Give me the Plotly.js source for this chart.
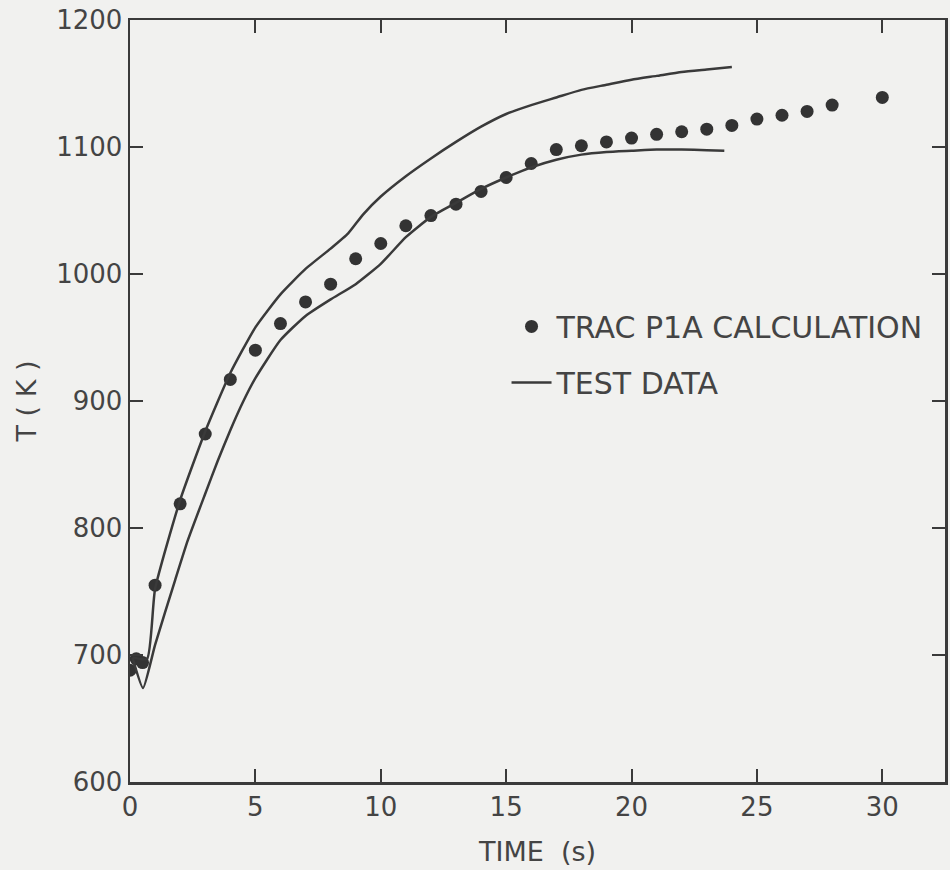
<!DOCTYPE html>
<html>
<head>
<meta charset="utf-8">
<script src="https://cdn.plot.ly/plotly-3.0.1.min.js"></script>
<style>html,body{margin:0;padding:0;background:#f1f1ef;}#chart{width:950px;height:870px;}</style>
</head>
<body>
<div id="chart"></div>
<script>
// TRAC P1A calculation (dots)
const calcTime = [0, 0.25, 0.5, 1, 2, 3, 4, 5, 6, 7, 8, 9, 10, 11, 12, 13, 14, 15, 16, 17, 18, 19, 20, 21, 22, 23, 24, 25, 26, 27, 28, 30];
const calcTemp = [688, 697, 694, 755, 819, 874, 917, 940, 961, 978, 992, 1012, 1024, 1038, 1046, 1055, 1065, 1076, 1087, 1098, 1101, 1104, 1107, 1110, 1112, 1114, 1117, 1122, 1125, 1128, 1133, 1139];

// Test data band: upper curve
const upperTime = [0.1, 0.68, 1, 2, 3, 4, 5, 6, 7, 8, 8.7, 9.3, 10, 11, 12, 13, 14, 15, 16, 17, 18, 19, 20, 21, 22, 23, 24];
const upperTemp = [698, 697, 752, 822, 876, 922, 958, 984, 1004, 1020, 1032, 1047, 1061, 1077, 1091, 1104, 1116, 1126, 1133, 1139, 1145, 1149, 1153, 1156, 1159, 1161, 1163];

// Test data band: lower curve
const lowerTime = [0.1, 0.52, 1, 1.8, 2.3, 3, 3.5, 4, 4.5, 5, 6, 7, 8, 9, 10, 11, 12, 13, 14, 15, 16, 17, 18, 19, 20, 21, 22, 23, 23.7];
const lowerTemp = [698, 674, 708, 759, 790, 827, 853, 877, 899, 918, 948, 967, 980, 992, 1008, 1029, 1045, 1056, 1067, 1076, 1084, 1090, 1094, 1096, 1097, 1098, 1098, 1097.5, 1097];

const xTicks = [0, 5, 10, 15, 20, 25, 30];
const yTicks = [600, 700, 800, 900, 1000, 1100, 1200];

const ink = '#3a3a3a';
const traces = [
  {x: calcTime, y: calcTemp, type: 'scatter', mode: 'markers', name: 'TRAC P1A CALCULATION',
   legendgroup: 'a', marker: {color: '#333333', size: 13}},
  {x: upperTime, y: upperTemp, type: 'scatter', mode: 'lines', name: 'TEST DATA',
   legendgroup: 'b', line: {color: ink, width: 2.5, shape: 'spline', smoothing: 0.5}},
  {x: lowerTime, y: lowerTemp, type: 'scatter', mode: 'lines', name: 'TEST DATA',
   legendgroup: 'b', showlegend: false, line: {color: ink, width: 2.5, shape: 'spline', smoothing: 0.5}}
];

const tickFont = {family: 'DejaVu Sans', size: 26, color: '#444444'};
const titleFont = {family: 'DejaVu Sans', size: 27, color: '#444444'};
const layout = {
  width: 950, height: 870,
  paper_bgcolor: '#f1f1ef', plot_bgcolor: '#f1f1ef',
  margin: {l: 130, r: 5, t: 20, b: 88},
  font: tickFont,
  showlegend: true,
  legend: {x: 0.462, y: 0.632, xanchor: 'left', yanchor: 'top', bgcolor: 'rgba(0,0,0,0)',
           borderwidth: 0, font: {family: 'DejaVu Sans', size: 30, color: '#444444'},
           tracegroupgap: 14, itemwidth: 40},
  xaxis: {range: [0, 32.5], tickvals: xTicks, ticktext: xTicks.map(String),
          ticks: 'inside', ticklen: 13, tickwidth: 2, tickcolor: ink,
          showline: true, linecolor: ink, linewidth: 2.5, mirror: 'ticks',
          showgrid: false, zeroline: false, tickfont: tickFont,
          title: {text: 'TIME  (s)', font: titleFont, standoff: 22}},
  yaxis: {range: [600, 1200], tickvals: yTicks, ticktext: yTicks.map(String),
          ticks: 'inside', ticklen: 13, tickwidth: 2, tickcolor: ink,
          showline: true, linecolor: ink, linewidth: 2.5, mirror: 'ticks',
          showgrid: false, zeroline: false, tickfont: tickFont,
          title: {text: 'T ( K )', font: titleFont, standoff: 12}}
};
Plotly.newPlot('chart', traces, layout, {displayModeBar: false, staticPlot: true});
</script>
</body>
</html>
